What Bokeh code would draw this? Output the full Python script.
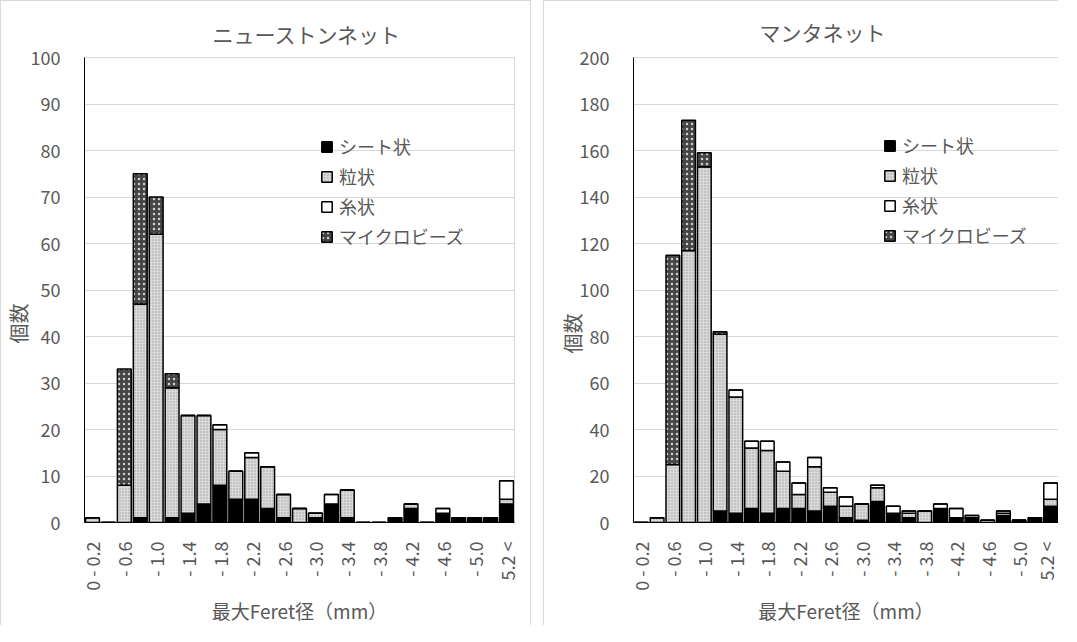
import math
from bokeh.plotting import figure
from bokeh.layouts import row
from bokeh.models import (Range1d, Legend, LegendItem, FixedTicker, Title,
                          SingleIntervalTicker, ColumnDataSource)
from bokeh.embed import file_html
from bokeh.resources import INLINE

categories = ["0 - 0.2", "- 0.4", "- 0.6", "- 0.8", "- 1.0", "- 1.2", "- 1.4", "- 1.6",
              "- 1.8", "- 2.0", "- 2.2", "- 2.4", "- 2.6", "- 2.8", "- 3.0", "- 3.2",
              "- 3.4", "- 3.6", "- 3.8", "- 4.0", "- 4.2", "- 4.4", "- 4.6", "- 4.8",
              "- 5.0", "- 5.2", "5.2 <"]

series_labels = ["シート状", "粒状", "糸状", "マイクロビーズ"]

# ニューストンネット
neu_sheet  = [0, 0, 0, 1, 0, 1, 2, 4, 8, 5, 5, 3, 1, 0, 1, 4, 1, 0, 0, 1, 3, 0, 2, 1, 1, 1, 4]
neu_gran   = [1, 0, 8, 46, 62, 28, 21, 19, 12, 6, 9, 9, 5, 3, 1, 0, 6, 0, 0, 0, 1, 0, 0, 0, 0, 0, 1]
neu_thread = [0, 0, 0, 0, 0, 0, 0, 0, 1, 0, 1, 0, 0, 0, 0, 2, 0, 0, 0, 0, 0, 0, 1, 0, 0, 0, 4]
neu_micro  = [0, 0, 25, 28, 8, 3, 0, 0, 0, 0, 0, 0, 0, 0, 0, 0, 0, 0, 0, 0, 0, 0, 0, 0, 0, 0, 0]

# マンタネット
man_sheet  = [0, 0, 0, 0, 0, 5, 4, 6, 4, 6, 6, 5, 7, 2, 1, 9, 4, 2, 0, 6, 2, 2, 0, 3, 1, 2, 7]
man_gran   = [0, 2, 25, 117, 153, 76, 50, 26, 27, 16, 6, 19, 6, 5, 7, 6, 0, 2, 5, 0, 0, 0, 1, 1, 0, 0, 3]
man_thread = [0, 0, 0, 0, 0, 0, 3, 3, 4, 4, 5, 4, 2, 4, 0, 1, 3, 1, 0, 2, 4, 1, 0, 1, 0, 0, 7]
man_micro  = [0, 0, 90, 56, 6, 1, 0, 0, 0, 0, 0, 0, 0, 0, 0, 0, 0, 0, 0, 0, 0, 0, 0, 0, 0, 0, 0]

TEXT = "#595959"
FONT = "Noto Sans CJK JP"
GRID = "#d9d9d9"
H = 625


def make(title, sheet, gran, thread, micro, ymax, yint, W, bl, br, title_off, title_standoff,
         legend_xy, ylab_off, ylab_standoff, css):
    n = len(categories)
    xs = list(range(n))
    p = figure(width=W, height=H, output_backend="svg", toolbar_location=None,
               x_range=Range1d(-0.5, n - 0.5), y_range=Range1d(0, ymax),
               min_border_left=bl, min_border_right=br, min_border_top=56,
               min_border_bottom=100, background_fill_color="white",
               border_fill_color="white", styles=css)
    p.title.text = title
    p.title.align = "left"
    p.title.offset = title_off
    p.title.text_font = FONT
    p.title.text_font_size = "21px"
    p.title.text_font_style = "normal"
    p.title.text_color = TEXT
    p.title.standoff = title_standoff

    p.outline_line_color = GRID
    p.xgrid.grid_line_color = None
    p.ygrid.grid_line_color = GRID
    p.ygrid.grid_line_width = 1

    xa = p.xaxis[0]
    xa.ticker = FixedTicker(ticks=xs[::2])
    xa.major_label_overrides = {i: categories[i] for i in xs}
    xa.major_label_orientation = math.pi / 2
    xa.major_tick_line_color = None
    xa.minor_tick_line_color = None
    xa.axis_line_color = "black"
    xa.major_label_text_font = FONT
    xa.major_label_text_font_size = "18px"
    xa.major_label_text_color = TEXT
    xa.major_label_standoff = 13
    xa.axis_label = "最大Feret径（mm）"
    xa.axis_label_text_font = FONT
    xa.axis_label_text_font_size = "19px"
    xa.axis_label_text_font_style = "normal"
    xa.axis_label_text_color = TEXT
    xa.axis_label_standoff = 3

    ya = p.yaxis[0]
    ya.ticker = SingleIntervalTicker(interval=yint)
    ya.major_tick_line_color = None
    ya.minor_tick_line_color = None
    ya.axis_line_color = "black"
    ya.major_label_text_font = FONT
    ya.major_label_text_font_size = "18px"
    ya.major_label_text_color = TEXT
    ya.major_label_standoff = 18

    ylab = Title(text="個数", align="left", offset=ylab_off, standoff=ylab_standoff,
                 text_font=FONT, text_font_size="20px", text_font_style="normal",
                 text_color=TEXT)
    p.add_layout(ylab, "left")

    src = ColumnDataSource(dict(x=xs, sheet=sheet, gran=gran, thread=thread, micro=micro))
    rs = p.vbar_stack(["sheet", "gran", "thread", "micro"], x="x", width=0.87, source=src,
                      fill_color=["black", "#dadada", "white", "#454545"],
                      line_color="black", line_width=1.5,
                      hatch_pattern=[" ", "dot", " ", "dot"],
                      hatch_color=["black", "#9c9c9c", "black", "#cfcfcf"],
                      hatch_scale=[4, 3, 4, 5],
                      hatch_weight=[1, 1, 1, 1.5])

    legend = Legend(items=[LegendItem(label=lbl, renderers=[r]) for lbl, r in zip(series_labels, rs)],
                    location=legend_xy, orientation="vertical",
                    glyph_width=13, glyph_height=13, label_height=20,
                    label_text_font=FONT, label_text_font_size="18px", label_text_color=TEXT,
                    spacing=4, padding=0, margin=0, label_standoff=6,
                    border_line_color=None, background_fill_alpha=0)
    p.add_layout(legend)
    return p


p1 = make("ニューストンネット", neu_sheet, neu_gran, neu_thread, neu_micro, 100, 10,
          531, 83, 18, 128, 17, (236, 273), 179, -10,
          {"border-left": "1px solid #d9d9d9", "border-top": "1px solid #d9d9d9",
           "border-right": "1px solid #d9d9d9"})
p2 = make("マンタネット", man_sheet, man_gran, man_thread, man_micro, 200, 20,
          515, 89, 1, 126, 21, (250, 274), 169, -20,
          {"border-left": "1px solid #d9d9d9", "border-top": "1px solid #d9d9d9"})

layout = row(p1, p2, spacing=12)
open("out.html", "w").write(file_html(layout, INLINE))
